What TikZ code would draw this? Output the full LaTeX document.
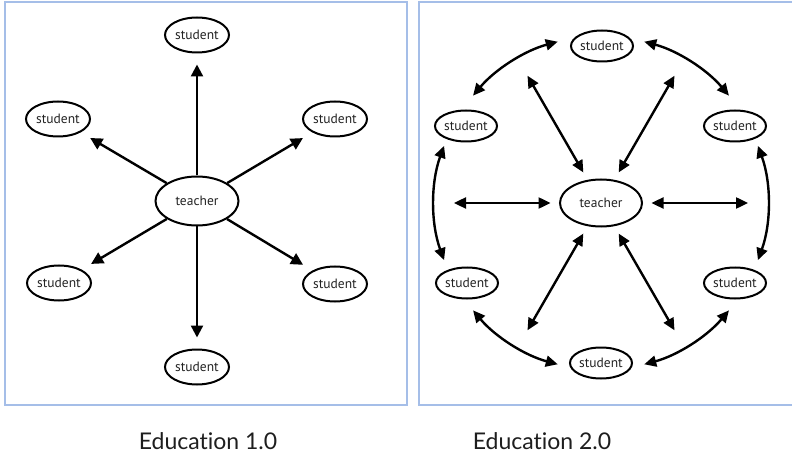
\documentclass[tikz,border=0pt]{standalone}
\usepackage{fontspec}
\setmainfont{Lato}[Ligatures=NoCommon]
\newfontfamily\nodefont{PT Sans}
\usetikzlibrary{arrows.meta,calc,shapes.geometric}
\definecolor{framecol}{RGB}{165,190,232}
\definecolor{textcol}{RGB}{35,35,35}
\definecolor{captcol}{RGB}{30,30,30}
\begin{document}
\begin{tikzpicture}[x=1pt,y=1pt,
  frameline/.style={draw=framecol, line width=1.2pt},
  studA/.style={ellipse, draw, line width=2pt, minimum width=64pt, minimum height=35pt, inner sep=0pt, font=\nodefont\fontsize{13.5}{15}\selectfont, text=textcol},
  teachA/.style={ellipse, draw, line width=2pt, minimum width=83pt, minimum height=49pt, inner sep=0pt, font=\nodefont\fontsize{13.5}{15}\selectfont, text=textcol},
  studB/.style={studA, minimum width=62pt, minimum height=31pt},
  teachB/.style={teachA, minimum width=82pt, minimum height=47pt},
  onearrow/.style={line width=2.4pt, -{Triangle[length=12pt,width=12pt]}, shorten >=11pt},
  twoarrow/.style={line width=2.4pt, {Triangle[length=12pt,width=11pt]}-{Triangle[length=12pt,width=11pt]}},
  caption/.style={font=\fontsize{23}{28}\selectfont, text=captcol}
]
\useasboundingbox (0,0) rectangle (792,461);

% frames
\draw[frameline] (5,459) rectangle (407,56);
\draw[frameline] (793,459) -- (419,459) -- (419,56) -- (793,56);

% ---------- Education 1.0 ----------
\node[teachA] (T1) at (197,260) {teacher};
\node[studA] (a1) at (197,426) {student};
\node[studA] (a2) at (58,342) {student};
\node[studA] (a3) at (335,342) {student};
\node[studA] (a4) at (59,178) {student};
\node[studA] (a5) at (335,177) {student};
\node[studA] (a6) at (197,94) {student};
\foreach \s in {a1,a2,a3,a4,a5,a6}
  \draw[onearrow] (T1) -- (\s);

% ---------- Education 2.0 ----------
\node[teachB] (T2) at (601,258) {teacher};
\node[studB] (b1) at (602,415) {student};
\node[studB] (b2) at (466,335) {student};
\node[studB] (b3) at (735,335) {student};
\node[studB] (b4) at (467,178) {student};
\node[studB] (b5) at (735,178) {student};
\node[studB] (b6) at (601,98) {student};

% radial double arrows with free outer ends
\foreach \ang/\nm in {120/r1,60/r2,180/r3,0/r4,240/r5,300/r6}{
  \coordinate (\nm) at ($(T2)+(\ang:147)$);
  \draw[twoarrow, shorten <=8.5pt] (T2) -- (\nm);
}

% ring arcs between students
\foreach \sa/\ea in {105/140,160/200,220/255,285/320,340/380,40/75}
  \draw[twoarrow] ($(T2)+(\sa:167)$) arc[start angle=\sa, end angle=\ea, radius=167];

% captions
\node[caption] (c1) at (208,20) {Education 1.0};
\node[caption] (c2) at (542,20) {Education 2.0};
\end{tikzpicture}
\end{document}
